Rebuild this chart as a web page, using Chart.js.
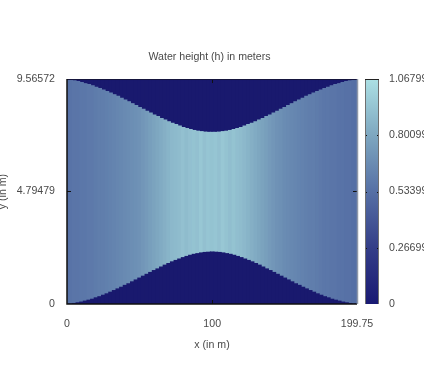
<!DOCTYPE html>
<html>
<head>
<meta charset="utf-8">
<title>Water height</title>
<script src="https://cdn.jsdelivr.net/npm/chart.js@4"></script>
<style>
html, body { margin: 0; padding: 0; background: #fff; overflow: hidden; width: 424px; height: 382px; }
#wrap { position: relative; width: 424px; height: 382px; overflow: hidden; }
canvas { position: absolute; top: 0; filter: blur(0.5px); }
#heightChart { left: -12px; }
#colorBar { left: 358px; }
</style>
</head>
<body>
<div id="wrap">
    <canvas id="heightChart"></canvas>
    <canvas id="colorBar"></canvas>
</div>
<script>
// x position of each column, in m
const xValues = [
    0, 2.5, 5, 7.5, 10, 12.5, 15, 17.5, 20, 22.5, 25, 27.5, 30, 32.5, 35, 37.5, 40, 42.5, 45, 47.5,
    50, 52.5, 55, 57.5, 60, 62.5, 65, 67.5, 70, 72.5, 75, 77.5, 80, 82.5, 85, 87.5, 90, 92.5, 95, 97.5,
    100, 102.5, 105, 107.5, 110, 112.5, 115, 117.5, 120, 122.5, 125, 127.5, 130, 132.5, 135, 137.5, 140, 142.5, 145, 147.5,
    150, 152.5, 155, 157.5, 160, 162.5, 165, 167.5, 170, 172.5, 175, 177.5, 180, 182.5, 185, 187.5, 190, 192.5, 195, 197.5, 199.75
];
// dry bank at the bottom of the channel, in m
const lowerBank = [
    0.00, 0.01, 0.03, 0.06, 0.09, 0.13, 0.17, 0.21, 0.27, 0.32, 0.38, 0.44, 0.51, 0.58, 0.65, 0.72, 0.80, 0.87, 0.95, 1.03,
    1.11, 1.19, 1.27, 1.35, 1.43, 1.50, 1.58, 1.66, 1.73, 1.80, 1.86, 1.92, 1.98, 2.03, 2.08, 2.12, 2.15, 2.18, 2.20, 2.21,
    2.22, 2.21, 2.20, 2.18, 2.15, 2.12, 2.08, 2.03, 1.98, 1.92, 1.86, 1.80, 1.73, 1.66, 1.58, 1.50, 1.43, 1.35, 1.27, 1.19,
    1.11, 1.03, 0.95, 0.87, 0.80, 0.72, 0.65, 0.58, 0.51, 0.44, 0.38, 0.32, 0.27, 0.21, 0.17, 0.13, 0.09, 0.06, 0.03, 0.01, 0.00
];
// dry bank at the top of the channel, in m
const upperBank = [
    0.02, 0.04, 0.07, 0.10, 0.14, 0.19, 0.23, 0.28, 0.34, 0.40, 0.46, 0.52, 0.59, 0.66, 0.73, 0.81, 0.88, 0.96, 1.04, 1.12,
    1.20, 1.28, 1.36, 1.44, 1.52, 1.59, 1.67, 1.74, 1.81, 1.87, 1.93, 1.99, 2.05, 2.10, 2.14, 2.18, 2.21, 2.23, 2.25, 2.26,
    2.26, 2.26, 2.25, 2.23, 2.21, 2.18, 2.14, 2.10, 2.05, 1.99, 1.93, 1.87, 1.81, 1.74, 1.67, 1.59, 1.52, 1.44, 1.36, 1.28,
    1.20, 1.12, 1.04, 0.96, 0.88, 0.81, 0.73, 0.66, 0.59, 0.52, 0.46, 0.40, 0.34, 0.28, 0.23, 0.19, 0.14, 0.10, 0.07, 0.04, 0.02
];
// water height per column, in m
const waterHeight = [
    0.55, 0.55, 0.56, 0.56, 0.57, 0.57, 0.58, 0.58, 0.59, 0.60, 0.60, 0.61, 0.62, 0.63, 0.64, 0.65, 0.66, 0.67, 0.68, 0.69,
    0.70, 0.72, 0.74, 0.76, 0.78, 0.80, 0.82, 0.84, 0.86, 0.88, 0.89, 0.90, 0.92, 0.90, 0.92, 0.93, 0.92, 0.95, 0.92, 0.94,
    0.93, 0.94, 0.92, 0.95, 0.93, 0.91, 0.93, 0.91, 0.90, 0.88, 0.86, 0.84, 0.82, 0.80, 0.78, 0.76, 0.74, 0.72, 0.70, 0.69,
    0.67, 0.66, 0.65, 0.64, 0.63, 0.62, 0.61, 0.60, 0.60, 0.59, 0.58, 0.57, 0.57, 0.56, 0.56, 0.55, 0.55, 0.54, 0.54, 0.53, 0.53
];
const xTicks = [0, 100, 199.75];
const yTicks = [0, 4.79479, 9.56572];
const colorTicks = [0, 0.26699, 0.53399, 0.80099, 1.06799];
const paletteValues = [0, 0.26699, 0.53399, 0.80099, 1.06799];
const paletteColors = [[25, 25, 115], [52, 62, 136], [86, 112, 165], [126, 167, 192], [172, 224, 228]];

const xMax = 199.75;
const yMax = 9.56572;
const hMax = 1.06799;
const textColor = '#4a4a4a';
const bankColor = 'rgb(25, 25, 110)';
const fontFamily = '"Liberation Sans", Arial, sans-serif';
const fontSize = 10.6;

const colorFor = (h) => {
    for (let i = 1; i < paletteValues.length; i++) {
        if (h <= paletteValues[i]) {
            const t = (h - paletteValues[i - 1]) / (paletteValues[i] - paletteValues[i - 1]);
            const a = paletteColors[i - 1];
            const b = paletteColors[i];
            return `rgb(${a[0] + (b[0] - a[0]) * t}, ${a[1] + (b[1] - a[1]) * t}, ${a[2] + (b[2] - a[2]) * t})`;
        }
    }
    return `rgb(${paletteColors[paletteColors.length - 1].join(', ')})`;
};

const setSize = (id, w, h) => {
    const el = document.getElementById(id);
    el.width = w;
    el.height = h;
    return el.getContext('2d');
};

// Inside tick marks and the frame around the plot
const heightFrame = {
    id: 'heightFrame',
    afterLayout(chart) {
        // the title sits a little left of the plot centre
        chart.titleBlock.right -= 5;
    },
    afterDatasetsDraw(chart) {
        const { ctx, chartArea: a, scales } = chart;
        ctx.save();
        ctx.strokeStyle = '#111';
        ctx.lineWidth = 1;
        yTicks.slice(1, 2).forEach(v => {
            const py = Math.round(scales.y.getPixelForValue(v)) + 0.5;
            ctx.beginPath();
            ctx.moveTo(a.left, py);
            ctx.lineTo(a.left + 4, py);
            ctx.moveTo(a.right - 4, py);
            ctx.lineTo(a.right, py);
            ctx.stroke();
        });
        const px = Math.round(scales.x.getPixelForValue(100)) + 0.5;
        ctx.beginPath();
        ctx.moveTo(px, a.top);
        ctx.lineTo(px, a.top + 4);
        ctx.moveTo(px, a.bottom - 4);
        ctx.lineTo(px, a.bottom);
        ctx.stroke();
        ctx.strokeStyle = '#16163c';
        ctx.beginPath();
        ctx.moveTo(a.left, a.top + 0.5);
        ctx.lineTo(a.right, a.top + 0.5);
        ctx.stroke();
        ctx.strokeStyle = '#111';
        ctx.lineWidth = 1.5;
        ctx.beginPath();
        ctx.moveTo(a.left, a.top);
        ctx.lineTo(a.left, a.bottom);
        ctx.lineTo(a.right, a.bottom);
        ctx.stroke();
        ctx.strokeStyle = '#8f98a8';
        ctx.beginPath();
        ctx.moveTo(a.right + 0.5, a.top);
        ctx.lineTo(a.right + 0.5, a.bottom);
        ctx.stroke();
        ctx.restore();
    }
};

const colorFrame = {
    id: 'colorFrame',
    afterDatasetsDraw(chart) {
        const { ctx, chartArea: a, scales } = chart;
        ctx.save();
        ctx.strokeStyle = '#111';
        ctx.lineWidth = 1;
        colorTicks.slice(1, 4).forEach(v => {
            const py = Math.round(scales.y.getPixelForValue(v)) + 0.5;
            ctx.beginPath();
            ctx.moveTo(a.left, py);
            ctx.lineTo(a.left + 2, py);
            ctx.moveTo(a.right - 2, py);
            ctx.lineTo(a.right, py);
            ctx.stroke();
        });
        ctx.strokeStyle = '#6f6f6f';
        ctx.beginPath();
        ctx.moveTo(a.left + 0.5, a.top);
        ctx.lineTo(a.left + 0.5, a.bottom);
        ctx.moveTo(a.right - 0.5, a.top);
        ctx.lineTo(a.right - 0.5, a.bottom);
        ctx.stroke();
        ctx.strokeStyle = '#222';
        ctx.beginPath();
        ctx.moveTo(a.left, a.top + 0.5);
        ctx.lineTo(a.right, a.top + 0.5);
        ctx.stroke();
        ctx.restore();
    }
};

const points = (values) => values.map((v, i) => ({ x: xValues[i], y: v }));
const waterSpan = lowerBank.map((v, i) => yMax - v - upperBank[i]);

const bandStyle = { barPercentage: 1, categoryPercentage: 1, barThickness: 4, borderWidth: 0, borderSkipped: false };

new Chart(setSize('heightChart', 396, 351), {
    type: 'bar',
    plugins: [heightFrame],
    data: {
        datasets: [
            { label: 'lower bank', data: points(lowerBank), backgroundColor: bankColor, ...bandStyle },
            { label: 'water height', data: points(waterSpan), backgroundColor: waterHeight.map(colorFor), ...bandStyle },
            { label: 'upper bank', data: points(upperBank), backgroundColor: bankColor, ...bandStyle }
        ]
    },
    options: {
        responsive: false,
        animation: false,
        layout: { padding: { top: 0, right: 27, bottom: 0, left: 0 } },
        plugins: {
            legend: { display: false },
            tooltip: { enabled: false },
            title: {
                display: true,
                text: 'Water height (h) in meters',
                color: textColor,
                font: { family: fontFamily, size: fontSize, weight: 'normal' },
                padding: { top: 51, bottom: 15.3 },
                fullSize: false
            }
        },
        scales: {
            x: {
                type: 'linear',
                stacked: true,
                offset: false,
                min: 0,
                max: xMax,
                afterBuildTicks: (axis) => { axis.ticks = xTicks.map(v => ({ value: v })); },
                afterFit: (axis) => { axis.height = 47; axis.paddingRight = 0; axis.paddingLeft = 0; },
                ticks: {
                    color: textColor,
                    font: { family: fontFamily, size: fontSize },
                    maxRotation: 0,
                    autoSkip: false,
                    padding: 6,
                    callback: (v) => String(v)
                },
                grid: { display: false },
                border: { display: false },
                title: {
                    display: true,
                    text: 'x (in m)',
                    color: textColor,
                    font: { family: fontFamily, size: fontSize },
                    padding: { top: 10, bottom: 0 }
                }
            },
            y: {
                stacked: true,
                min: 0,
                max: yMax,
                afterBuildTicks: (axis) => { axis.ticks = yTicks.map(v => ({ value: v })); },
                afterFit: (axis) => { axis.width = 79; axis.paddingTop = 0; axis.paddingBottom = 0; },
                ticks: {
                    color: textColor,
                    font: { family: fontFamily, size: fontSize },
                    padding: 4,
                    autoSkip: false,
                    callback: (v) => String(v)
                },
                grid: { display: false },
                border: { display: false },
                title: {
                    display: true,
                    text: 'y (in m)',
                    color: textColor,
                    font: { family: fontFamily, size: fontSize },
                    padding: { top: 9, bottom: 0 }
                }
            }
        }
    }
});

new Chart(setSize('colorBar', 100, 382), {
    type: 'bar',
    plugins: [colorFrame],
    data: {
        labels: ['h'],
        datasets: [{
            label: 'palette',
            data: [[0, hMax]],
            barPercentage: 1,
            categoryPercentage: 1,
            borderWidth: 0,
            backgroundColor: (context) => {
                const { ctx, chartArea, scales } = context.chart;
                if (!chartArea) return paletteColors[0];
                const g = ctx.createLinearGradient(0, scales.y.getPixelForValue(0), 0, scales.y.getPixelForValue(hMax));
                paletteValues.forEach((v, i) => g.addColorStop(v / hMax, `rgb(${paletteColors[i].join(', ')})`));
                return g;
            }
        }]
    },
    options: {
        responsive: false,
        animation: false,
        layout: { padding: { top: 79, right: 0, bottom: 78, left: 7 } },
        plugins: { legend: { display: false }, tooltip: { enabled: false } },
        scales: {
            x: { display: false },
            y: {
                position: 'right',
                min: 0,
                max: hMax,
                afterBuildTicks: (axis) => { axis.ticks = colorTicks.map(v => ({ value: v })); },
                afterFit: (axis) => { axis.width = 79; },
                ticks: {
                    color: textColor,
                    font: { family: fontFamily, size: fontSize },
                    padding: 2,
                    autoSkip: false,
                    callback: (v) => String(v)
                },
                grid: { display: false },
                border: { display: false }
            }
        }
    }
});
</script>
</body>
</html>
